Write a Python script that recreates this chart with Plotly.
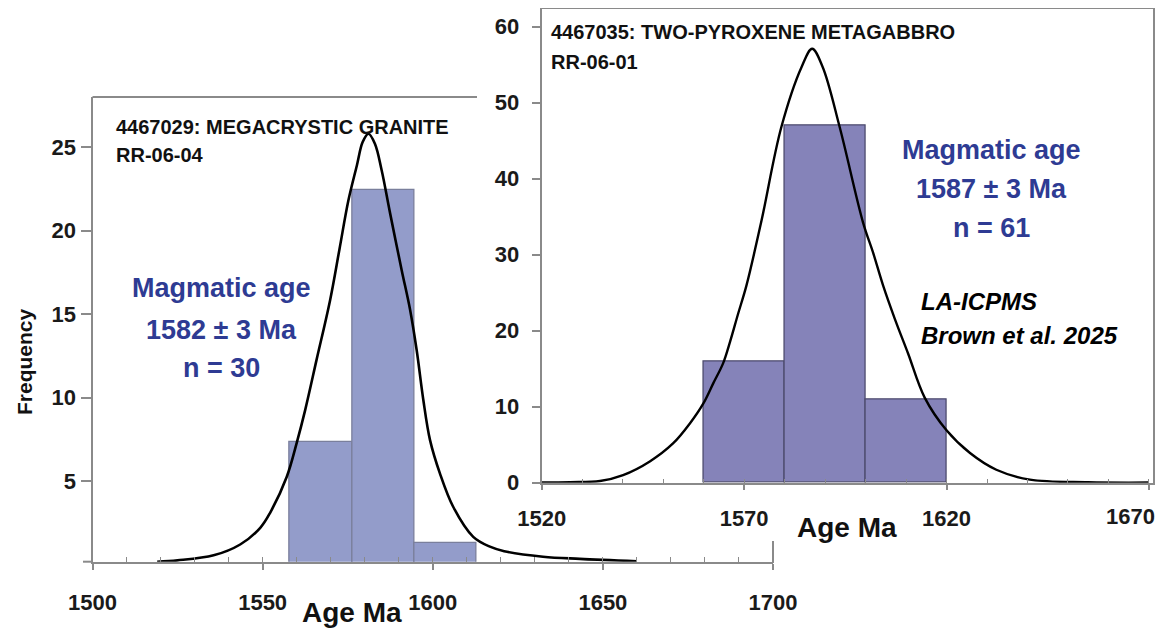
import plotly.graph_objects as go

# the page body has an 8px margin, so the figure is drawn 8px in from the window edge
OFF = 8
W, H = 1165 - 2 * OFF, 636 - 2 * OFF

# ---------------- data: left panel (4467029 megacrystic granite) ----------------
left_bin_edges = [1558.0, 1576.3, 1594.5, 1612.8]
left_counts = [7.35, 22.44, 1.27]
left_curve_age = [1519, 1525, 1535.6, 1543.4, 1549.3, 1552.2, 1557.1, 1560.1, 1562.5,
                  1565.9, 1569.8, 1572.6, 1575.2, 1577.7, 1579.4, 1581.1, 1583.0, 1585.0,
                  1587.5, 1590.9, 1593.3, 1595.3, 1597.2, 1599.2, 1602.1, 1606.0, 1611.9,
                  1616.8, 1621.0, 1632.4, 1643.2, 1660.0]
left_curve_freq = [0.17, 0.25, 0.55, 1.2, 2.2, 3.1, 5.26, 7.35, 9.25,
                   12.3, 15.8, 18.9, 21.8, 23.9, 25.3, 25.8, 25.2, 23.6,
                   21.0, 17.6, 15.3, 12.8, 9.9, 7.45, 5.46, 3.46, 1.66,
                   1.07, 0.8, 0.47, 0.34, 0.2]
left_xticks = [1500, 1550, 1600, 1650, 1700]
left_yticks = [5, 10, 15, 20, 25]

# ---------------- data: right panel (4467035 two-pyroxene metagabbro) ----------------
right_bin_edges = [1560, 1580, 1600, 1620]
right_counts = [16, 47, 11]
right_curve_age = [1520, 1527.0, 1534.4, 1540.1, 1546.7, 1552.5, 1556.6, 1559.9, 1562.4,
                   1564.8, 1566.5, 1568.5, 1570.6, 1574.3, 1579.2, 1584.2, 1586.8,
                   1589.4, 1593.6, 1599.4, 1601.9, 1604.3, 1607.2, 1610.5, 1614.6,
                   1620.0, 1625.8, 1632.3, 1640.6, 1655.0, 1670.0]
right_curve_freq = [0.03, 0.08, 0.22, 1.0, 2.8, 5.2, 7.8, 10.4, 13.1,
                    15.7, 18.5, 22.2, 26.0, 34.5, 46.8, 54.7, 57.1,
                    54.7, 46.8, 34.2, 30.2, 26.0, 21.6, 17.0, 11.2,
                    6.9, 3.9, 1.7, 0.4, 0.06, 0.02]
right_xticks = [1520, 1570, 1620, 1670]
right_xticklabels = ["1520", "1570", "1620", ""]   # last label placed by hand at the edge
right_last_label = "1670"
right_yticks = [0, 10, 20, 30, 40, 50, 60]

# ---------------- styles ----------------
FONT = "Arial, Liberation Sans, sans-serif"
AXIS_GRAY = "#8a8a8a"
BLUE = "#2E3B93"


def px(x):
    return min(1.0, max(0.0, (x - OFF) / W))


def py(y):
    return min(1.0, max(0.0, 1 - (y - OFF) / H))


def centers(edges):
    return [(a + b) / 2 for a, b in zip(edges[:-1], edges[1:])]


def widths(edges):
    return [b - a for a, b in zip(edges[:-1], edges[1:])]


fig = go.Figure()

fig.add_trace(go.Bar(x=centers(left_bin_edges), y=left_counts, width=widths(left_bin_edges),
                     marker=dict(color="#939CCA", line=dict(color="#7a7f9c", width=1.3)),
                     xaxis="x", yaxis="y", showlegend=False))
fig.add_trace(go.Scatter(x=left_curve_age, y=left_curve_freq, mode="lines",
                         line=dict(color="black", width=2.6, shape="spline", smoothing=1.0),
                         xaxis="x", yaxis="y", showlegend=False))

fig.add_trace(go.Bar(x=centers(right_bin_edges), y=right_counts, width=widths(right_bin_edges),
                     marker=dict(color="#8583B9", line=dict(color="#4d4b6e", width=1.3)),
                     xaxis="x2", yaxis="y2", showlegend=False))
fig.add_trace(go.Scatter(x=right_curve_age, y=right_curve_freq, mode="lines",
                         line=dict(color="black", width=2.4, shape="spline", smoothing=1.0),
                         xaxis="x2", yaxis="y2", showlegend=False))

tickfont = dict(family=FONT, size=22, color="#1a1a1a", weight="bold")

fig.update_layout(
    width=W, height=H,
    margin=dict(l=0, r=0, t=0, b=0, autoexpand=False),
    paper_bgcolor="white", plot_bgcolor="rgba(0,0,0,0)",
    bargap=0,
    xaxis=dict(domain=[px(92.5), px(773)], range=[1500, 1700], anchor="y", automargin=False,
               tickvals=left_xticks, ticks="outside", ticklen=6, tickcolor=AXIS_GRAY, tickwidth=1.5,
               ticklabelstandoff=14, ticklabeloverflow="allow",
               minor=dict(dtick=10, ticks="inside", ticklen=5, tickcolor=AXIS_GRAY, tickwidth=1),
               showline=True, linecolor=AXIS_GRAY, linewidth=2, showgrid=False, zeroline=False,
               tickfont=tickfont),
    yaxis=dict(domain=[py(561.7), py(97)], range=[0.17, 28.0], anchor="x", automargin=False,
               tickvals=left_yticks, ticks="outside", ticklen=10, tickcolor=AXIS_GRAY, tickwidth=1.5,
               showline=True, linecolor=AXIS_GRAY, linewidth=2, showgrid=False, zeroline=False,
               tickfont=tickfont),
    xaxis2=dict(domain=[px(541.7), px(1153)], range=[1520, 1671], anchor="y2", automargin=False,
                tickvals=right_xticks, ticktext=right_xticklabels,
                ticks="outside", ticklen=5, tickcolor=AXIS_GRAY, tickwidth=1.5,
                ticklabelstandoff=10, ticklabeloverflow="allow",
                minor=dict(dtick=10, ticks="inside", ticklen=4, tickcolor=AXIS_GRAY, tickwidth=1),
                showline=True, mirror=True, linecolor=AXIS_GRAY, linewidth=2,
                showgrid=False, zeroline=False, tickfont=tickfont),
    yaxis2=dict(domain=[py(482.7), py(8.5)], range=[0, 62.4], anchor="x2", automargin=False,
                tickvals=right_yticks, ticks="outside", ticklen=8, tickcolor=AXIS_GRAY, tickwidth=1.5,
                ticklabelstandoff=8,
                showline=True, mirror=True, linecolor=AXIS_GRAY, linewidth=2,
                showgrid=False, zeroline=False, tickfont=tickfont),
)

# left panel frame pieces (top line partially hidden behind right panel)
fig.add_shape(type="line", xref="paper", yref="paper", x0=px(92.5), x1=px(477), y0=py(97), y1=py(97),
              line=dict(color=AXIS_GRAY, width=2))
fig.add_shape(type="line", xref="paper", yref="paper", x0=px(773), x1=px(773), y0=py(541), y1=py(563),
              line=dict(color=AXIS_GRAY, width=2))
fig.add_shape(type="line", xref="paper", yref="paper", x0=px(83), x1=px(92.5), y0=py(561.7), y1=py(561.7),
              line=dict(color=AXIS_GRAY, width=2))


def ann(text, x, y, size, color="black", xanchor="center", italic=False, angle=0):
    fig.add_annotation(text=text, xref="paper", yref="paper", x=px(x), y=py(y),
                       xanchor=xanchor, yanchor="middle", showarrow=False, textangle=angle,
                       font=dict(family=FONT, size=size, color=color, weight="bold",
                                 style="italic" if italic else "normal"))


ann(right_last_label, 1164, 516, 22, "#1a1a1a", xanchor="right")

ann("4467029: MEGACRYSTIC GRANITE", 114, 127, 20, "#111", xanchor="left")
ann("RR-06-04", 114, 155, 20, "#111", xanchor="left")
ann("4467035: TWO-PYROXENE METAGABBRO", 549, 32, 20, "#111", xanchor="left")
ann("RR-06-01", 549, 62, 20, "#111", xanchor="left")

ann("Magmatic age", 221, 288, 27, BLUE)
ann("1582 ± 3 Ma", 221, 330, 27, BLUE)
ann("n = 30", 221, 368, 27, BLUE)

ann("Magmatic age", 991, 150, 27, BLUE)
ann("1587 ± 3 Ma", 991, 189, 27, BLUE)
ann("n = 61", 991, 228, 27, BLUE)

ann("LA-ICPMS", 919, 302, 24, "black", xanchor="left", italic=True)
ann("Brown et al. 2025", 919, 335, 24, "black", xanchor="left", italic=True)

ann("Age Ma", 352, 612, 28, "#111")
ann("Age Ma", 847, 527, 28, "#111")
ann("Frequency", 24, 362, 21, "#111", angle=-90)

fig.write_html("out.html")
